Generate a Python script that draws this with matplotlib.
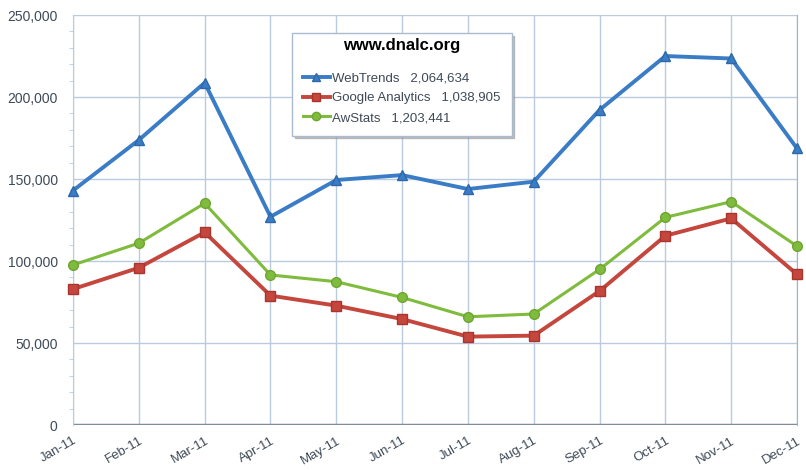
import matplotlib
matplotlib.use("Agg")
import matplotlib.pyplot as plt
from matplotlib.ticker import MultipleLocator, FuncFormatter
from matplotlib.lines import Line2D

months = ["Jan-11", "Feb-11", "Mar-11", "Apr-11", "May-11", "Jun-11",
          "Jul-11", "Aug-11", "Sep-11", "Oct-11", "Nov-11", "Dec-11"]
webtrends = [143000, 173800, 208700, 127000, 149400, 152400,
             143900, 148400, 192100, 225000, 223500, 168700]
google_analytics = [82900, 95900, 117500, 78900, 72800, 64600,
                    53900, 54500, 81700, 115400, 126000, 91900]
awstats = [97600, 110900, 135200, 91500, 87400, 77800,
           66000, 67700, 94900, 126600, 136200, 109100]
series_names = ["WebTrends", "Google Analytics", "AwStats"]
series_totals = [2064634, 1038905, 1203441]
legend_title = "www.dnalc.org"

plt.rcParams['font.family'] = ['Liberation Sans', 'DejaVu Sans']

fig = plt.figure(figsize=(8.06, 4.70), dpi=100)
ax = fig.add_axes([0.0906, 0.0957, 0.8982, 0.8723])

x = list(range(len(months)))
grid_c = "#b9cbdc"
txt_c = "#3e4a58"
blue, red, green = "#3a7cc6", "#c4463c", "#7fbb3c"

ax.plot(x, webtrends, color=blue, lw=2.8, marker="^", ms=7, mec="#2f68a8", zorder=5, clip_on=False)
ax.plot(x, google_analytics, color=red, lw=2.8, marker="s", ms=7, mec="#a8362e", zorder=4, clip_on=False)
ax.plot(x, awstats, color=green, lw=2.2, marker="o", ms=7, mec="#6ea532", zorder=3, clip_on=False)

ax.set_xlim(0, len(months) - 1)
ax.set_ylim(0, 250000)
ax.yaxis.set_major_locator(MultipleLocator(50000))
ax.yaxis.set_minor_locator(MultipleLocator(10000))
ax.yaxis.set_major_formatter(FuncFormatter(lambda v, p: f"{int(v):,}"))
ax.set_xticks(x)
ax.set_xticklabels(months, rotation=30, ha="right", rotation_mode="anchor")

ax.grid(True, which="major", color=grid_c, lw=1.0)
ax.set_axisbelow(True)
for s in ["top", "bottom"]:
    ax.spines[s].set_visible(False)
ax.spines["left"].set_color(grid_c)
ax.spines["right"].set_color("#a3b3c3")
ax.axhline(0, color="#7f8c99", lw=2.5, zorder=2)

ax.tick_params(axis="y", which="major", length=0, pad=11, labelsize=10, labelcolor=txt_c)
ax.tick_params(axis="y", which="minor", length=3, color=grid_c, direction="out")
ax.tick_params(axis="x", length=0, pad=7, labelsize=9.5, labelcolor=txt_c)

handles = [
    Line2D([], [], color=blue, lw=2.8, marker="^", ms=6, mec="#2f68a8"),
    Line2D([], [], color=red, lw=2.8, marker="s", ms=6, mec="#a8362e"),
    Line2D([], [], color=green, lw=2.2, marker="o", ms=6, mec="#6ea532"),
]
labels = [f"{n}   {t:,}" for n, t in zip(series_names, series_totals)]
leg = fig.legend(handles, labels, title=legend_title, loc="upper left",
                 bbox_to_anchor=(0.362, 0.930), borderaxespad=0,
                 fontsize=9.5, title_fontsize=12, frameon=True, fancybox=False,
                 shadow={"color": "#999999", "alpha": 0.6}, handlelength=2.0, handletextpad=0.15,
                 labelspacing=0.56, borderpad=0.4, labelcolor=txt_c)
leg.get_title().set_fontweight("bold")
leg.get_frame().set_edgecolor("#a9bccf")
leg.get_frame().set_linewidth(1.0)
leg._legend_box.sep = 9.5
leg._legend_handle_box.pad = 4.5

fig.savefig("out.png", dpi=100)
